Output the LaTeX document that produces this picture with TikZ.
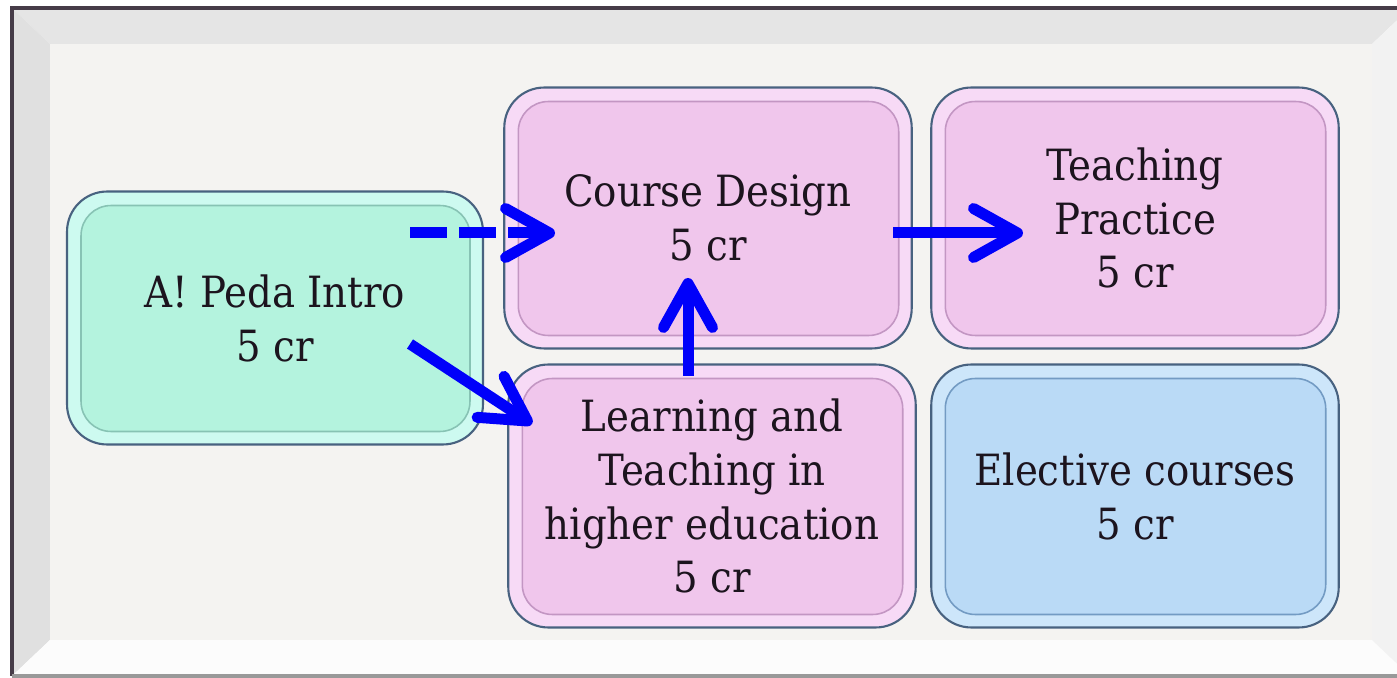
\documentclass[tikz,border=0pt]{standalone}
\usepackage{fontspec}
\setmainfont{DejaVu Serif Condensed}
\usetikzlibrary{arrows.meta}

\definecolor{framebg}{RGB}{244,243,241}
\definecolor{framedark}{RGB}{70,60,72}
\definecolor{boxline}{RGB}{72,98,128}
\definecolor{textdark}{RGB}{28,20,30}
\definecolor{flowblue}{RGB}{0,0,250}
\definecolor{greenrim}{RGB}{205,250,240}
\definecolor{greenface}{RGB}{180,243,222}
\definecolor{greenedge}{RGB}{135,195,180}
\definecolor{pinkrim}{RGB}{247,218,246}
\definecolor{pinkface}{RGB}{240,198,236}
\definecolor{pinkedge}{RGB}{195,150,195}
\definecolor{bluerim}{RGB}{205,230,250}
\definecolor{blueface}{RGB}{186,218,246}
\definecolor{blueedge}{RGB}{115,155,195}

\begin{document}
\begin{tikzpicture}[x=0.02cm, y=-0.02cm,
    course/.style n args={3}{draw=boxline, line width=1.2pt, fill=#1,
      rounded corners=0.8cm, align=center, text=textdark,
      font=\fontsize{24.5}{30.7}\selectfont,
      minimum width=8.15cm, minimum height=5.22cm,
      path picture={\draw[fill=#2, draw=#3, line width=0.9pt, rounded corners=0.6cm]
        ([shift={(0.28cm,-0.28cm)}]path picture bounding box.north west) rectangle
        ([shift={(-0.26cm,0.26cm)}]path picture bounding box.south east);}},
    flow/.style={draw=flowblue, line width=0.22cm,
      -{Straight Barb[length=0.88cm, width=0.98cm, round]}}]
    \useasboundingbox (0,0) rectangle (1397,678);
    \fill[white] (0,0) rectangle (1397,678);

    % frame with bevel
    \fill[black!10] (12,8) -- (1410,8) -- (1372,44) -- (50,44) -- cycle;
    \fill[black!12] (12,8) -- (50,44) -- (50,640) -- (12,676) -- cycle;
    \fill[black!1] (12,676) -- (50,640) -- (1372,640) -- (1410,676) -- cycle;
    \fill[black!5] (1410,8) -- (1372,44) -- (1372,640) -- (1410,676) -- cycle;
    \fill[framebg] (50,44) rectangle (1372,640);
    \draw[framedark, line width=2.5pt] (1410,8) -- (12,8) -- (12,676);
    \draw[black!40, line width=2pt] (12,676) -- (1410,676);

    % courses
    \node[course={greenrim}{greenface}{greenedge}, minimum width=8.32cm, minimum height=5.06cm]
        (intro) at (275,318) {A! Peda Intro\\5 cr};
    \node[course={pinkrim}{pinkface}{pinkedge}] (design) at (708,218) {Course Design\\5 cr};
    \node[course={pinkrim}{pinkface}{pinkedge}] (practice) at (1135,218) {Teaching\\Practice\\5 cr};
    \node[course={pinkrim}{pinkface}{pinkedge}, minimum height=5.26cm]
        (learning) at (712,496) {Learning and\\Teaching in\\higher education\\5 cr};
    \node[course={bluerim}{blueface}{blueedge}, minimum height=5.26cm]
        (elective) at (1135,496) {Elective courses\\5 cr};

    % arrow ends
    \coordinate (introUp) at (410,233);
    \coordinate (designIn) at (555,233);
    \coordinate (introDown) at (410,344);
    \coordinate (learningIn) at (532,424);
    \coordinate (learningUp) at (688,376);
    \coordinate (designBelow) at (688,278);
    \coordinate (designOut) at (893,233);
    \coordinate (practiceIn) at (1023,233);

    \draw[flow, dash pattern=on 0.74cm off 0.24cm] (introUp) -- (designIn);
    \draw[flow] (introDown) -- (learningIn);
    \draw[flow] (learningUp) -- (designBelow);
    \draw[flow] (designOut) -- (practiceIn);
\end{tikzpicture}
\end{document}
